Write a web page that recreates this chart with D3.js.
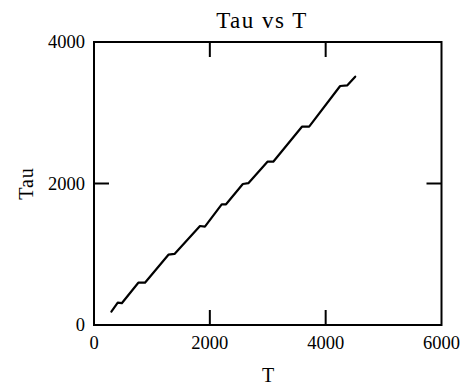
<!DOCTYPE html>
<html>
<head>
<meta charset="utf-8">
<script src="https://cdn.jsdelivr.net/npm/d3@7"></script>
<style>
  html, body { margin: 0; padding: 0; background: #fff; }
  svg { display: block; }
  text { font-family: "Liberation Serif", "DejaVu Serif", serif; fill: #000; }
</style>
</head>
<body>
<svg id="chart" width="467" height="388"></svg>
<script>
// Measured Tau against T
const tValues   = [300, 410, 480, 765, 880, 1285, 1390, 1830, 1915, 2205, 2280, 2570, 2665, 2995, 3095, 3590, 3715, 4250, 4375, 4510];
const tauValues = [190, 315, 308, 598, 598, 994, 1004, 1399, 1390, 1706, 1706, 1993, 2005, 2308, 2308, 2803, 2803, 3378, 3388, 3510];

const xTicks = [0, 2000, 4000, 6000];
const yTicks = [0, 2000, 4000];
const xInner = [2000, 4000];
const yInner = [2000];

const svg = d3.select("#chart");
const plotL = 94, plotR = 441.5, plotT = 42, plotB = 325;

const x = d3.scaleLinear().domain([0, 6000]).range([plotL, plotR]);
const y = d3.scaleLinear().domain([0, 4000]).range([plotB, plotT]);

// Plot frame
svg.append("rect")
  .attr("x", plotL).attr("y", plotT)
  .attr("width", plotR - plotL).attr("height", plotB - plotT)
  .attr("fill", "none").attr("stroke", "#000").attr("stroke-width", 2);

// Inward tick marks on all four sides
const tickLen = 15;
const g = svg.append("g").attr("stroke", "#000").attr("stroke-width", 2);
xInner.forEach(v => {
  g.append("line").attr("x1", x(v)).attr("x2", x(v)).attr("y1", plotB).attr("y2", plotB - tickLen);
  g.append("line").attr("x1", x(v)).attr("x2", x(v)).attr("y1", plotT).attr("y2", plotT + tickLen);
});
yInner.forEach(v => {
  g.append("line").attr("y1", y(v)).attr("y2", y(v)).attr("x1", plotL).attr("x2", plotL + tickLen);
  g.append("line").attr("y1", y(v)).attr("y2", y(v)).attr("x1", plotR).attr("x2", plotR - tickLen);
});

// Tick labels
svg.append("g").selectAll("text").data(xTicks).join("text")
  .attr("x", d => x(d)).attr("y", 349)
  .attr("text-anchor", "middle").attr("font-size", 18.5)
  .text(d => d);

svg.append("g").selectAll("text").data(yTicks).join("text")
  .attr("x", 85).attr("y", d => y(d) + 6)
  .attr("text-anchor", "end").attr("font-size", 18.5)
  .text(d => d);

// Titles
svg.append("text").attr("x", 262).attr("y", 28)
  .attr("text-anchor", "middle").attr("font-size", 23)
  .attr("letter-spacing", 1.5)
  .text("Tau vs T");

svg.append("text").attr("x", 268).attr("y", 382)
  .attr("text-anchor", "middle").attr("font-size", 20)
  .text("T");

svg.append("text")
  .attr("transform", `translate(33, ${y(2000)}) rotate(-90)`)
  .attr("text-anchor", "middle").attr("font-size", 20)
  .attr("letter-spacing", 1)
  .text("Tau");

// Data line
const line = d3.line().x((d, i) => x(tValues[i])).y(d => y(d));
svg.append("path")
  .datum(tauValues)
  .attr("d", line)
  .attr("fill", "none").attr("stroke", "#000")
  .attr("stroke-width", 2.2).attr("stroke-linejoin", "round").attr("stroke-linecap", "round");
</script>
</body>
</html>
